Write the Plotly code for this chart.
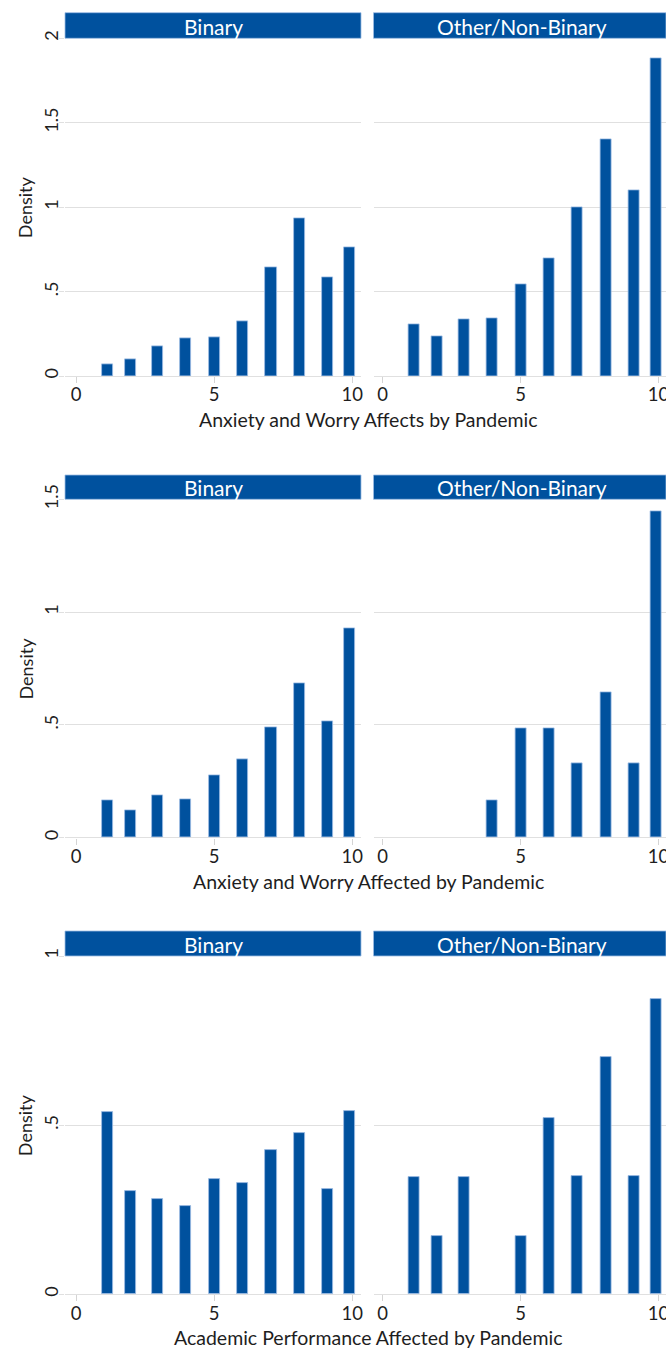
import plotly.graph_objects as go

W, H = 666, 1351

# ---------------- data ----------------
bin_centers = [1.13, 1.96, 2.94, 3.97, 5.0, 6.04, 7.06, 8.08, 9.12, 9.9]
bar_width = 0.4

panel_titles = ["Binary", "Other/Non-Binary"]

anx_affects_binary = [0.067, 0.097, 0.178, 0.221, 0.229, 0.324, 0.644, 0.932, 0.587, 0.762]
anx_affects_other = [0.308, 0.235, 0.338, 0.340, 0.541, 0.699, 0.999, 1.402, 1.102, 1.884]

anx_affected_binary = [0.167, 0.120, 0.188, 0.172, 0.277, 0.346, 0.491, 0.684, 0.516, 0.928]
anx_affected_other = [0, 0, 0, 0.167, 0.486, 0.483, 0.328, 0.646, 0.328, 1.447]

acad_binary = [0.540, 0.304, 0.281, 0.261, 0.341, 0.329, 0.427, 0.478, 0.312, 0.543]
acad_other = [0.346, 0.172, 0.346, 0, 0.172, 0.522, 0.349, 0.701, 0.349, 0.873]

x_titles = [
    "Anxiety and Worry Affects by Pandemic",
    "Anxiety and Worry Affected by Pandemic",
    "Academic Performance Affected by Pandemic",
]
y_title = "Density"

y_max = [2, 1.5, 1]
y_tickvals = [[0, 0.5, 1, 1.5, 2], [0, 0.5, 1, 1.5], [0, 0.5, 1]]
y_ticktext = [["0", ".5", "1", "1.5", "2"], ["0", ".5", "1", "1.5"], ["0", ".5", "1"]]
x_tickvals = [0, 5, 10]
x_ticktext = ["0", "5", "10"]

series = [
    (anx_affects_binary, anx_affects_other),
    (anx_affected_binary, anx_affected_other),
    (acad_binary, acad_other),
]

# ---------------- layout geometry (pixels) ----------------
BLUE = "#00519e"
EDGE = "#9dbde3"
GRID = "#e0e0e0"
TXT = "#1e1e1e"
FONT = "Lato"

left_px = (65, 361)
right_px = (373.5, 666)
left_range = [-0.4, 10.32]
right_range = [-0.33, 10.27]

rows_px = [  # header top, plot top, plot bottom, x-title y
    (12.7, 38.3, 376.0, 419),
    (475.0, 499.3, 837.7, 881),
    (931.0, 956.0, 1294.3, 1337),
]


def px(x):
    return x / W


def py(y):
    return 1 - y / H


fig = go.Figure()
layout = {}
shapes = []
annotations = []

for r, ((hb_top, p_top, p_bot, xt_y), (vals_b, vals_o)) in enumerate(zip(rows_px, series)):
    for c, vals in enumerate((vals_b, vals_o)):
        idx = r * 2 + c + 1
        xa = "x" if idx == 1 else f"x{idx}"
        ya = "y" if idx == 1 else f"y{idx}"
        xkey = "xaxis" if idx == 1 else f"xaxis{idx}"
        ykey = "yaxis" if idx == 1 else f"yaxis{idx}"
        dom = left_px if c == 0 else right_px
        fig.add_trace(go.Bar(
            x=bin_centers, y=vals, width=bar_width,
            marker=dict(color=BLUE,
                        line=dict(color=EDGE, width=[0.8 if v > 0 else 0 for v in vals])),
            xaxis=xa, yaxis=ya, showlegend=False, hoverinfo="x+y",
        ))
        layout[xkey] = dict(
            domain=[px(dom[0]), px(dom[1])], anchor=ya,
            range=left_range if c == 0 else right_range,
            tickvals=x_tickvals, ticktext=x_ticktext,
            ticks="outside", ticklen=6, tickwidth=1.2, tickcolor="#d4d4d4",
            showgrid=False, zeroline=False, showline=False,
            tickfont=dict(family=FONT, size=18.5, color=TXT),
            ticklabelstandoff=-4,
            ticklabeloverflow="allow",
            automargin=False,
            fixedrange=True,
        )
        layout[ykey] = dict(
            domain=[py(p_bot), py(p_top)], anchor=xa,
            range=[0, y_max[r]],
            tickvals=y_tickvals[r], ticktext=y_ticktext[r],
            tickangle=-90,
            showticklabels=(c == 0),
            ticks="outside" if c == 0 else "", ticklen=5, tickwidth=1.3, tickcolor=GRID,
            showgrid=True, gridcolor=GRID, gridwidth=1.3,
            zeroline=True, zerolinecolor=GRID, zerolinewidth=1.3,
            showline=False,
            tickfont=dict(family=FONT, size=18, color=TXT),
            ticklabelstandoff=-6,
            ticklabeloverflow="allow",
            automargin=False,
            fixedrange=True,
        )
        # header strip
        x1 = dom[1] if c == 0 else W
        shapes.append(dict(
            type="rect", xref="paper", yref="paper",
            x0=px(dom[0]), x1=px(x1), y0=py(p_top), y1=py(hb_top),
            fillcolor=BLUE, line=dict(color=EDGE, width=0.8), layer="above",
        ))
        cx = (dom[0] + dom[1]) / 2 if c == 0 else 522
        annotations.append(dict(
            xref="paper", yref="paper", x=px(cx), y=py((hb_top + p_top) / 2 + 0.5),
            text=panel_titles[c], showarrow=False,
            font=dict(family=FONT, size=21, color="white"),
            xanchor="center", yanchor="middle",
        ))
    # y title
    annotations.append(dict(
        xref="paper", yref="paper", x=px(25), y=py((p_top + p_bot) / 2),
        text=y_title, textangle=-90, showarrow=False,
        font=dict(family=FONT, size=18, color=TXT),
        xanchor="center", yanchor="middle",
    ))
    # x title
    annotations.append(dict(
        xref="paper", yref="paper", x=px(368), y=py(xt_y),
        text=x_titles[r], showarrow=False,
        font=dict(family=FONT, size=19.5, color=TXT),
        xanchor="center", yanchor="middle",
    ))

fig.update_layout(
    width=W, height=H,
    margin=dict(l=0, r=0, t=0, b=0, autoexpand=False),
    paper_bgcolor="white", plot_bgcolor="white",
    bargap=0,
    shapes=shapes, annotations=annotations,
    font=dict(family=FONT, color=TXT),
    **layout,
)

fig.write_html(
    "out.html",
    config={"displayModeBar": False},
    post_script="document.body.style.margin='0px';document.body.style.overflow='hidden';",
)
